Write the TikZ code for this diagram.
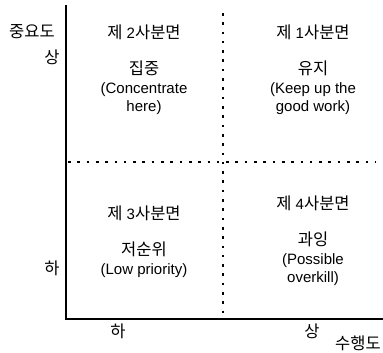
\documentclass[tikz,border=0pt]{standalone}
\usepackage{fontspec}
\setmainfont{Liberation Sans}
\newfontfamily\kr[Scale=1.1]{Noto Sans CJK KR}
\begin{document}
\begin{tikzpicture}[x=1pt,y=-1pt,
  axis/.style={line width=1.3pt},
  dotline/.style={line width=2.6pt, dash pattern=on 2.6pt off 6.7pt},
  lbl/.style={font=\fontsize{15}{18.5}\selectfont, inner sep=0pt, align=center},
]
\useasboundingbox (0,0) rectangle (383,353);
\coordinate (top) at (66,5);
\coordinate (origin) at (66,319);
\coordinate (right) at (383,319);
\draw[axis] (top) -- (origin) -- (right);
\coordinate (vt) at (223,13);
\coordinate (vb) at (223,319);
\coordinate (hl) at (68,162);
\coordinate (hr) at (376,162);
\draw[dotline] (vt) -- (vb);
\draw[dotline] (hl) -- (hr);
% axis labels
\node[lbl] (ylab) at (32,32) {\kr 중요도};
\node[lbl] (yhi) at (52,57) {\kr 상};
\node[lbl] (ylo) at (52,268) {\kr 하};
\node[lbl] (xlo) at (118,331) {\kr 하};
\node[lbl] (xhi) at (312,331) {\kr 상};
\node[lbl] (xlab) at (358,343) {\kr 수행도};
% quadrant 2
\node[lbl] (q2t) at (144,32) {{\kr 제} 2{\kr 사분면}};
\node[lbl] (q2b) at (144,88) {{\kr 집중}\\(Concentrate\\here)};
% quadrant 1
\node[lbl] (q1t) at (313,32) {{\kr 제} 1{\kr 사분면}};
\node[lbl] (q1b) at (313,88) {{\kr 유지}\\(Keep up the\\good work)};
% quadrant 3
\node[lbl] (q3t) at (144,213) {{\kr 제} 3{\kr 사분면}};
\node[lbl] (q3b) at (144,259.5) {{\kr 저순위}\\(Low priority)};
% quadrant 4
\node[lbl] (q4t) at (313,203) {{\kr 제} 4{\kr 사분면}};
\node[lbl] (q4b) at (313,259) {{\kr 과잉}\\(Possible\\overkill)};
\end{tikzpicture}
\end{document}
